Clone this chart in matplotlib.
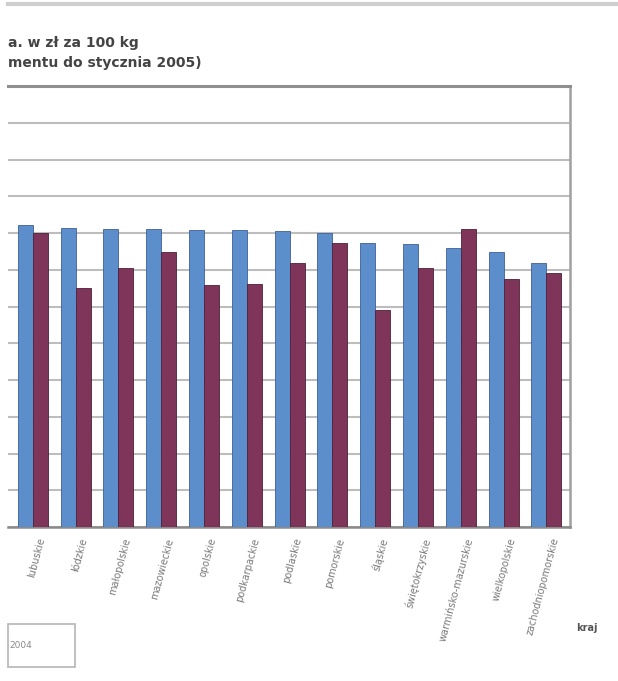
import matplotlib
matplotlib.use("Agg")
import matplotlib.pyplot as plt
from matplotlib.patches import Rectangle
from matplotlib.lines import Line2D
import numpy as np

categories = ["lubuskie", "łódzkie", "małopolskie", "mazowieckie", "opolskie",
              "podkarpackie", "podlaskie", "pomorskie", "śląskie", "świętokrzyskie",
              "warmińsko-mazurskie", "wielkopolskie", "zachodniopomorskie"]
series_blue = [82.2, 81.4, 81.1, 81.1, 80.8, 80.8, 80.5, 80.0, 77.3, 77.0, 75.9, 74.8, 71.8]
series_maroon = [80.0, 65.0, 70.5, 74.8, 65.9, 66.1, 71.8, 77.3, 59.0, 70.5, 81.1, 67.5, 69.1]
y_ticks = list(range(0, 121, 10))
title_lines = ["a. w zł za 100 kg", "mentu do stycznia 2005)"]
legend_text = "2004"
axis_title = "kraj"

W, H = 618, 681
fig = plt.figure(figsize=(W / 100, H / 100), dpi=100)
fig.patch.set_facecolor("white")

ax = fig.add_axes([8 / W, 154 / H, 562 / W, 441 / H])
x = np.arange(len(categories))
bw = 0.35
ax.bar(x - bw / 2, series_blue, bw, color="#5b8ecb", edgecolor="#3e5f9a", linewidth=0.6, zorder=3)
ax.bar(x + bw / 2, series_maroon, bw, color="#7e3559", edgecolor="#4f2038", linewidth=0.6, zorder=3)

ax.set_xlim(-0.58, 12.55)
ax.set_ylim(0, 120)
ax.set_yticks(y_ticks)
ax.yaxis.grid(True, color="#bdbdbd", linewidth=1.5, zorder=0)
ax.tick_params(axis="y", length=0, labelleft=False)
ax.tick_params(axis="x", length=0, pad=7)
ax.set_xticks(x + 0.1)
ax.set_xticklabels(categories, rotation=75, ha="right", va="top", rotation_mode="anchor",
                   fontsize=7, color="#7a7a7a")
ax.spines["left"].set_visible(False)
ax.spines["top"].set_color("#8f8f8f")
ax.spines["top"].set_linewidth(2.2)
ax.spines["right"].set_color("#a0a0a0")
ax.spines["right"].set_linewidth(1.8)
ax.spines["bottom"].set_color("#8a8a8a")
ax.spines["bottom"].set_linewidth(1.8)

# top chart border line
fig.add_artist(Line2D([8 / W, 1.0], [1 - 4 / H, 1 - 4 / H], color="#cfcfcf", linewidth=3))

fig.text(8 / W, 1 - 43 / H, title_lines[0], fontsize=10, color="#444444", va="center", ha="left",
         fontweight="bold")
fig.text(8 / W, 1 - 63 / H, title_lines[1], fontsize=10, color="#444444", va="center", ha="left",
         fontweight="bold")

# legend box (partly cropped)
fig.add_artist(Rectangle((8 / W, 1 - 667 / H), 67 / W, 43 / H, transform=fig.transFigure,
                         fill=False, edgecolor="#b5b5b5", linewidth=1.2))
fig.text(9 / W, 1 - 646 / H, legend_text, fontsize=6.5, color="#8a8a8a", va="center", ha="left")

fig.text(587 / W, 1 - 628 / H, axis_title, fontsize=7, color="#555555", va="center", ha="center",
         fontweight="bold")

fig.savefig("out.png", dpi=100, facecolor="white")
